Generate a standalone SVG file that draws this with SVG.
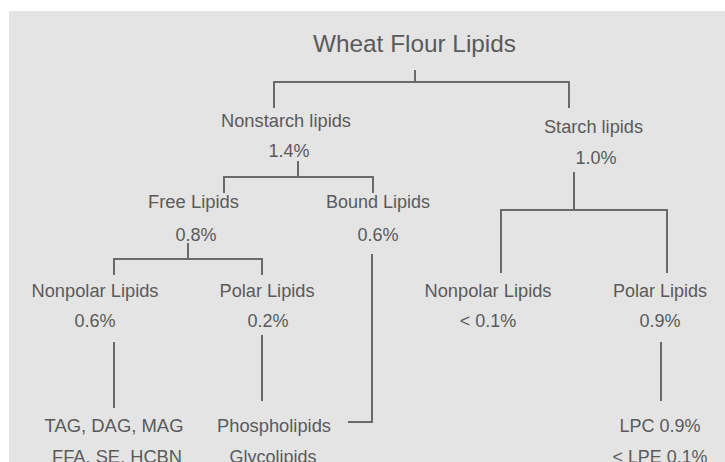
<svg xmlns="http://www.w3.org/2000/svg" width="725" height="462" viewBox="0 0 725 462">
<style>
text{font-family:"Liberation Sans",Arial,sans-serif;fill:#5a5a5a;text-anchor:middle;font-size:18px}
.t{font-size:24.5px}
.c line,.c path{stroke:#6a6a6a;stroke-width:2;fill:none}
</style>
<rect width="725" height="462" fill="#ffffff"/>
<rect x="9" y="11" width="716" height="451" fill="#e4e4e4"/>
<g class="c" id="connectors">
<path d="M415,70V82M274,108V82H569V108"/>
<path d="M298,161V177M224,193V177H373V193"/>
<path d="M188,243V259M114,275V259H262V275"/>
<path d="M574,172V210M501,273V210H667V273"/>
<line x1="114" y1="342" x2="114" y2="408"/>
<line x1="262" y1="335" x2="262" y2="401"/>
<path d="M372,254V422H348"/>
<line x1="661" y1="342" x2="661" y2="401"/>
</g>
<g id="root"><text class="t" x="414.5" y="52" textLength="203" lengthAdjust="spacingAndGlyphs">Wheat Flour Lipids</text></g>
<g id="nonstarch"><text x="286" y="127" textLength="130" lengthAdjust="spacingAndGlyphs">Nonstarch lipids</text><text x="289" y="157">1.4%</text></g>
<g id="starch"><text x="593.5" y="133" textLength="99" lengthAdjust="spacingAndGlyphs">Starch lipids</text><text x="596" y="164">1.0%</text></g>
<g id="free"><text x="193.5" y="208" textLength="91" lengthAdjust="spacingAndGlyphs">Free Lipids</text><text x="196" y="241">0.8%</text></g>
<g id="bound"><text x="378" y="208" textLength="104" lengthAdjust="spacingAndGlyphs">Bound Lipids</text><text x="378" y="241">0.6%</text></g>
<g id="np1"><text x="95" y="297" textLength="127" lengthAdjust="spacingAndGlyphs">Nonpolar Lipids</text><text x="95" y="327">0.6%</text></g>
<g id="p1"><text x="267" y="297" textLength="95" lengthAdjust="spacingAndGlyphs">Polar Lipids</text><text x="268" y="327">0.2%</text></g>
<g id="np2"><text x="488" y="297" textLength="127" lengthAdjust="spacingAndGlyphs">Nonpolar Lipids</text><text x="488" y="327">&lt; 0.1%</text></g>
<g id="p2"><text x="660" y="297" textLength="94" lengthAdjust="spacingAndGlyphs">Polar Lipids</text><text x="660" y="327">0.9%</text></g>
<g id="tag"><text x="114" y="432" textLength="139" lengthAdjust="spacingAndGlyphs">TAG, DAG, MAG</text><text x="117" y="463" textLength="130" lengthAdjust="spacingAndGlyphs">FFA, SE, HCBN</text></g>
<g id="phos"><text x="274" y="432" textLength="114" lengthAdjust="spacingAndGlyphs">Phospholipids</text><text x="273" y="463" textLength="87" lengthAdjust="spacingAndGlyphs">Glycolipids</text></g>
<g id="lpc"><text x="660" y="432" textLength="81" lengthAdjust="spacingAndGlyphs">LPC 0.9%</text><text x="660" y="463" textLength="95" lengthAdjust="spacingAndGlyphs">&lt; LPE 0.1%</text></g>
</svg>
